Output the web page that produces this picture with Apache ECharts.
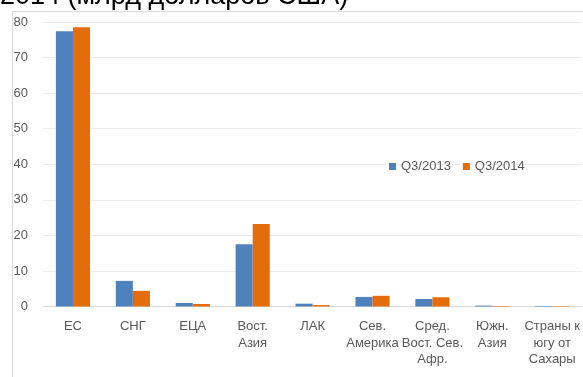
<!DOCTYPE html>
<html>
<head>
<meta charset="utf-8">
<script src="https://cdn.jsdelivr.net/npm/echarts@6/dist/echarts.min.js"></script>
<style>
  html, body { margin: 0; padding: 0; background: #ffffff; }
  #chart { width: 583px; height: 377px; }
</style>
</head>
<body>
<div id="chart"></div>
<script>
// Regions (category axis)
const regions = [
  'ЕС', 'СНГ', 'ЕЦА', 'Вост.\nАзия', 'ЛАК',
  'Сев.\nАмерика', 'Сред.\nВост. Сев.\nАфр.', 'Южн.\nАзия', 'Страны к\nюгу от\nСахары'
];

// Values, billion USD
const q3_2013 = [77.4, 7.2, 1.0, 17.5, 0.8, 2.7, 2.1, 0.25, 0.15];
const q3_2014 = [78.5, 4.4, 0.7, 23.2, 0.4, 3.0, 2.6, 0.15, 0.12];

// Value axis ticks
const yMin = 0, yMax = 80, yStep = 10;

const seriesNames = ['Q3/2013', 'Q3/2014'];
const titleText = '2014 (млрд долларов США)';

const FONT = '"Liberation Sans", Arial, sans-serif';
const LABEL_COLOR = '#595959';

const chart = echarts.init(document.getElementById('chart'), null, { renderer: 'canvas' });

chart.setOption({
  animation: false,
  backgroundColor: '#ffffff',
  color: ['#4f81bd', '#e46c0a'],
  graphic: [
    {
      type: 'text',
      left: 0,
      top: -17,
      style: {
        text: titleText,
        font: '27px ' + FONT,
        fill: '#000000'
      }
    },
    {
      type: 'polyline',
      shape: { points: [[12.5, 377], [12.5, 11.5], [583, 11.5]] },
      style: { stroke: '#d9d9d9', lineWidth: 1, fill: null }
    }
  ],
  legend: {
    data: seriesNames,
    left: 384,
    top: 155,
    icon: 'rect',
    itemWidth: 7,
    itemHeight: 7,
    itemGap: 12,
    textStyle: { color: LABEL_COLOR, fontSize: 13, fontFamily: FONT }
  },
  grid: { left: 43, right: 0, top: 22, bottom: 70.5, containLabel: false },
  xAxis: {
    type: 'category',
    data: regions,
    axisLine: { show: true, lineStyle: { color: '#d9d9d9' } },
    axisTick: { show: false },
    axisLabel: {
      interval: 0,
      margin: 12,
      color: LABEL_COLOR,
      fontSize: 13,
      fontFamily: FONT,
      lineHeight: 16.5
    }
  },
  yAxis: {
    type: 'value',
    min: yMin,
    max: yMax,
    interval: yStep,
    axisLine: { show: false },
    axisTick: { show: false },
    splitLine: { lineStyle: { color: '#ececec' } },
    axisLabel: { margin: 15, color: LABEL_COLOR, fontSize: 13, fontFamily: FONT }
  },
  series: [
    { name: seriesNames[0], type: 'bar', data: q3_2013, barGap: '0%', barCategoryGap: '43%' },
    { name: seriesNames[1], type: 'bar', data: q3_2014, barGap: '0%', barCategoryGap: '43%' }
  ]
});
</script>
</body>
</html>
